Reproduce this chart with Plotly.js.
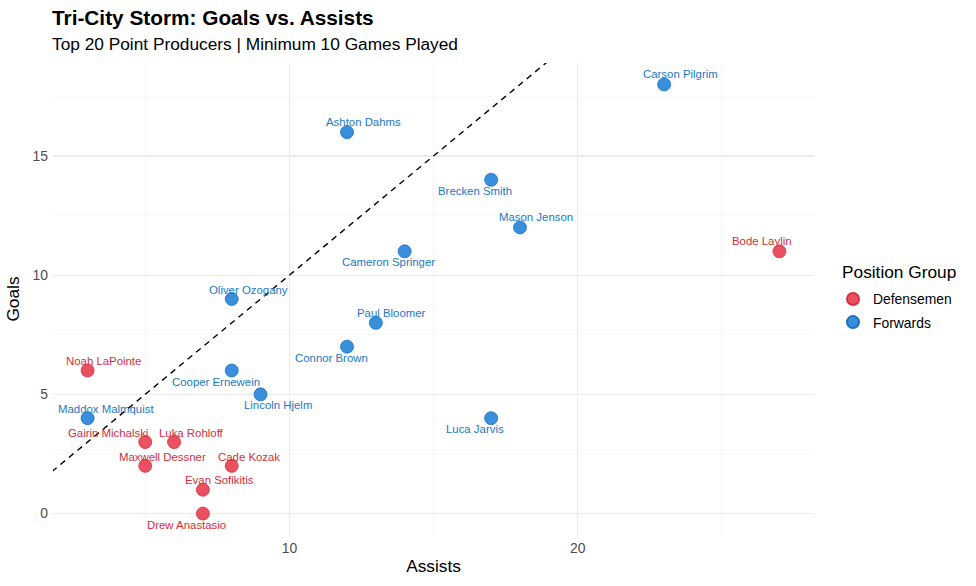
<!DOCTYPE html>
<html><head><meta charset="utf-8">
<script src="https://cdn.plot.ly/plotly-3.0.1.min.js"></script>
<style>html,body{margin:0;padding:0;background:#fff}#chart{width:976px;height:586px}</style>
</head><body><div id="chart"></div>
<script>
const players = ["Carson Pilgrim","Ashton Dahms","Brecken Smith","Mason Jenson","Cameron Springer","Bode Laylin","Oliver Ozogany","Paul Bloomer","Connor Brown","Noah LaPointe","Cooper Ernewein","Lincoln Hjelm","Maddox Malmquist","Luca Jarvis","Gairin Michalski","Luka Rohloff","Maxwell Dessner","Cade Kozak","Evan Sofikitis","Drew Anastasio"];
const assists = [23,12,17,18,14,27,8,13,12,3,8,9,3,17,5,6,5,8,7,7];
const goals   = [18,16,14,12,11,11,9,8,7,6,6,5,4,4,3,3,2,2,1,0];
const groups  = ["Forwards","Forwards","Forwards","Forwards","Forwards","Defensemen","Forwards","Forwards","Forwards","Defensemen","Forwards","Forwards","Forwards","Forwards","Defensemen","Defensemen","Defensemen","Defensemen","Defensemen","Defensemen"];
const groupNames = ["Defensemen","Forwards"];

// label offsets in pixels (repel-like placement), style only
const labelShift = [[16,10],[16,10],[-16,-11],[16,10],[-16,-11],[-17,10],[17,9],[16,10],[-16,-11],[16,10],[-16,-11],[17,-11],[18,9],[-16,-11],[-37,9],[17,9],[17,9],[17,9],[17,10],[-16,-11]];

const markerCol = {Defensemen:"rgba(230,57,74,0.88)", Forwards:"rgba(30,128,214,0.88)"};
const lineCol = {Defensemen:"#d8303f", Forwards:"#1a72c2"};
const textCol = {Defensemen:"#d42d3c", Forwards:"#1b78c8"};
const FONT = "Liberation Sans, Arial, sans-serif";

const L = 53, R = 814, T = 63, B = 535;
const px = v => (v - L) / (R - L);
const py = v => (B - v) / (B - T);

const traces = groupNames.map((g,gi) => {
  const idx = groups.map((v,i)=>v===g?i:-1).filter(i=>i>=0);
  return {
    type:"scatter", mode:"markers", name:g, legendgroup:g,
    x: idx.map(i=>assists[i]), y: idx.map(i=>goals[i]),
    text: idx.map(i=>players[i]), hoverinfo:"text",
    marker:{size:13, color:markerCol[g], line:{color:lineCol[g], width:0.8}}
  };
});

const annotations = players.map((p,i)=>({
  x: assists[i], y: goals[i], xref:"x", yref:"y", text:p, showarrow:false,
  xshift: labelShift[i][0], yshift: labelShift[i][1],
  font:{family:FONT, size:11.4, color:textCol[groups[i]]}
}));
annotations.push({xref:"paper", yref:"paper", x:px(50), y:py(17), xanchor:"left", yanchor:"middle",
  text:"<b>Tri-City Storm: Goals vs. Assists</b>", showarrow:false,
  font:{family:FONT, size:20.8, color:"#000"}});
annotations.push({xref:"paper", yref:"paper", x:px(50), y:py(44), xanchor:"left", yanchor:"middle",
  text:"Top 20 Point Producers | Minimum 10 Games Played", showarrow:false,
  font:{family:FONT, size:17.3, color:"#000"}});
annotations.push({xref:"paper", yref:"paper", x:px(840), y:py(272), xanchor:"left", yanchor:"middle",
  text:"Position Group", showarrow:false,
  font:{family:FONT, size:17.3, color:"#000"}});

const layout = {
  width:976, height:586, paper_bgcolor:"#fff", plot_bgcolor:"#fff",
  margin:{l:L, r:976-R, t:T, b:586-B},
  font:{family:FONT, color:"#000"},
  xaxis:{range:[1.8,28.2], tickvals:[10,20], ticktext:["10","20"], showgrid:true, gridcolor:"#ebebeb", gridwidth:1.1,
    minor:{tickvals:[5,15,25], showgrid:true, gridcolor:"#f4f4f4", gridwidth:0.6}, automargin:false,
    zeroline:false, showline:false, ticks:"", ticklabelstandoff:3, tickfont:{size:13.9, color:"#4d4d4d"},
    title:{text:"Assists", font:{size:17.3, color:"#000"}, standoff:4}},
  yaxis:{range:[-0.9,18.9], tickvals:[0,5,10,15], ticktext:["0","5","10","15"], showgrid:true, gridcolor:"#ebebeb", gridwidth:1.1,
    minor:{tickvals:[2.5,7.5,12.5,17.5], showgrid:true, gridcolor:"#f4f4f4", gridwidth:0.6}, automargin:false,
    zeroline:false, showline:false, ticks:"", ticklabelstandoff:4, tickfont:{size:13.9, color:"#4d4d4d"},
    title:{text:"Goals", font:{size:17.3, color:"#000"}, standoff:8}},
  shapes:[{type:"line", xref:"x", yref:"y", x0:0, y0:0, x1:30, y1:30, line:{color:"#000", width:1.4, dash:"6px,5px"}, layer:"above"}],
  showlegend:true,
  legend:{x:px(833), xanchor:"left", y:py(311), yanchor:"middle",
    font:{size:13.9}, tracegroupgap:2, itemsizing:"constant", bgcolor:"rgba(0,0,0,0)"},
  annotations: annotations
};
Plotly.newPlot("chart", traces, layout, {displayModeBar:false, staticPlot:true});
</script></body></html>
